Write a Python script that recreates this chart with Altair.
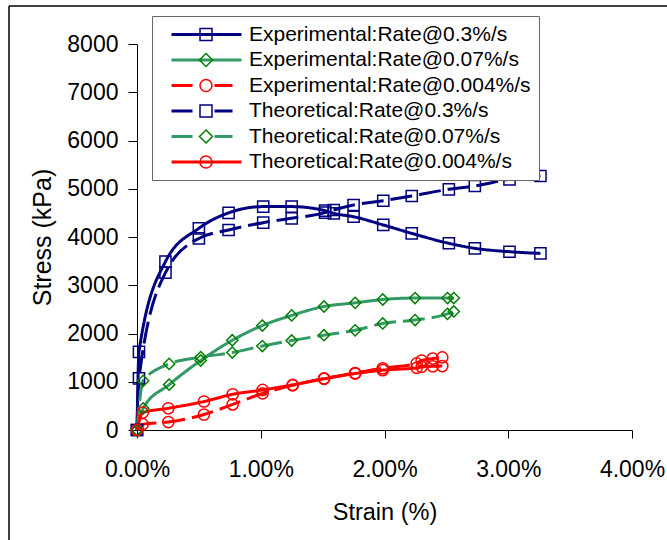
import altair as alt
import pandas as pd

FONT = "Liberation Sans"

# ---------------- data (strain in %, stress in kPa) ----------------
series_names = [
    "Experimental:Rate@0.3%/s",
    "Experimental:Rate@0.07%/s",
    "Experimental:Rate@0.004%/s",
    "Theoretical:Rate@0.3%/s",
    "Theoretical:Rate@0.07%/s",
    "Theoretical:Rate@0.004%/s",
]

strain_03 = [0, 0.016, 0.23, 0.50, 0.74, 1.02, 1.25, 1.52, 1.59, 1.75, 1.99, 2.22, 2.52, 2.73, 3.01, 3.26]
exp_03 = [0, 1620, 3490, 4180, 4500, 4630, 4630, 4545, 4490, 4420, 4250, 4075, 3870, 3765, 3695, 3660]
theo_03 = [0, 1070, 3260, 3970, 4145, 4297, 4387, 4505, 4560, 4663, 4752, 4850, 4988, 5057, 5196, 5264]

strain_007 = [0, 0.05, 0.26, 0.515, 0.77, 1.013, 1.25, 1.511, 1.763, 1.986, 2.247, 2.509, 2.56]
exp_007 = [0, 450, 940, 1440, 1860, 2165, 2375, 2560, 2635, 2705, 2735, 2735, 2735]
theo_007 = [0, 1020, 1370, 1510, 1605, 1740, 1855, 1965, 2066, 2208, 2279, 2407, 2457]

strain_0004 = [0, 0.046, 0.253, 0.541, 0.773, 1.015, 1.258, 1.512, 1.763, 1.986, 2.26, 2.30, 2.39, 2.467]
exp_0004 = [0, 120, 165, 320, 530, 760, 925, 1070, 1180, 1280, 1380, 1440, 1480, 1505]
theo_0004 = [0, 360, 450, 590, 740, 830, 935, 1060, 1170, 1240, 1290, 1310, 1320, 1325]

x_ticks = [0, 1, 2, 3, 4]
y_ticks = [0, 1000, 2000, 3000, 4000, 5000, 6000, 7000, 8000]

# ---------------- styles ----------------
line_colors = ["#000080", "#339966", "#FF0000", "#000080", "#339966", "#FF0000"]
marker_colors = ["#000080", "#008000", "#FF0000", "#000080", "#008000", "#FF0000"]
marker_shapes = ["square", "diamond", "circle", "square", "diamond", "circle"]
dash_styles = [[1, 0], [1, 0], [22, 7], [22, 7], [22, 7], [1, 0]]

# legend symbols (line sample + marker), in legend symbol units (1 unit = 5 px)
LINE_SOLID = "M0.2,0H14.2"
LINE_DASHED = "M0.2,0H4.4M8.8,0H12.4"
SQ = "M5.9,-1.2H8.3V1.2H5.9Z"
DI = "M7.1,-1.3L8.4,0L7.1,1.3L5.8,0Z"
CI = "M8.3,0A1.2,1.2,0,1,1,5.9,0A1.2,1.2,0,1,1,8.3,0Z"
legend_line_paths = [LINE_SOLID, LINE_SOLID, LINE_DASHED, LINE_DASHED, LINE_DASHED, LINE_SOLID]
legend_marker_paths = [SQ, DI, CI, SQ, DI, CI]

# ---------------- table ----------------
rows = []
for name, xs, ys in [
    (series_names[0], strain_03, exp_03),
    (series_names[1], strain_007, exp_007),
    (series_names[2], strain_0004, exp_0004),
    (series_names[3], strain_03, theo_03),
    (series_names[4], strain_007, theo_007),
    (series_names[5], strain_0004, theo_0004),
]:
    for xv, yv in zip(xs, ys):
        rows.append({"series": name, "strain": xv, "stress": yv})
df = pd.DataFrame(rows)

x_enc = alt.X(
    "strain:Q",
    scale=alt.Scale(domain=[0, 4], nice=False),
    axis=alt.Axis(
        title="Strain (%)",
        values=x_ticks,
        labelExpr="format(datum.value, '.2f') + '%'",
        labelFlush=False,
        grid=False,
        tickSize=8,
        labelPadding=20,
        labelFontSize=23,
        titleFontSize=23.5,
        titleX=247.5,
        titleY=89,
        titleBaseline="alphabetic",
    ),
)
y_enc = alt.Y(
    "stress:Q",
    scale=alt.Scale(domain=[0, 8000], nice=False),
    axis=alt.Axis(
        title="Stress (kPa)",
        values=y_ticks,
        format="d",
        grid=False,
        tickSize=9,
        labelPadding=10,
        labelFontSize=23,
        titleFontSize=25,
        titleX=-87,
        titleY=193,
        titleAngle=-90,
        titleBaseline="alphabetic",
    ),
)

dom = series_names

lines = alt.Chart(df).mark_line(strokeWidth=3, interpolate="monotone").encode(
    x=x_enc,
    y=y_enc,
    color=alt.Color("series:N", scale=alt.Scale(domain=dom, range=line_colors), legend=None),
    strokeDash=alt.StrokeDash("series:N", scale=alt.Scale(domain=dom, range=dash_styles), legend=None),
)

points = alt.Chart(df).mark_point(filled=False, strokeWidth=1.5, size=125, opacity=1).encode(
    x="strain:Q",
    y="stress:Q",
    color=alt.Color("series:N", scale=alt.Scale(domain=dom, range=marker_colors), legend=None),
    shape=alt.Shape("series:N", scale=alt.Scale(domain=dom, range=marker_shapes), legend=None),
)

common_legend = dict(
    orient="none",
    legendX=15,
    legendY=-28,
    title=None,
    symbolSize=100,
    symbolOpacity=1,
    labelFont=FONT,
    labelFontSize=21,
    labelColor="black",
    labelLimit=600,
    labelOffset=68,
    padding=8,
    rowPadding=3.5,
    direction="vertical",
)
legA = alt.Legend(symbolStrokeWidth=3, strokeColor="#666666", fillColor="white", **common_legend)
legB = alt.Legend(symbolStrokeWidth=1.5, labelOpacity=0, **common_legend)

legend_lines = alt.Chart(df).mark_point(filled=False, opacity=0).encode(
    x="strain:Q",
    y="stress:Q",
    color=alt.Color("series:N", scale=alt.Scale(domain=dom, range=line_colors), legend=legA),
    shape=alt.Shape("series:N", scale=alt.Scale(domain=dom, range=legend_line_paths), legend=legA),
)
legend_markers = alt.Chart(df).mark_point(filled=False, opacity=0).encode(
    x="strain:Q",
    y="stress:Q",
    color=alt.Color("series:N", scale=alt.Scale(domain=dom, range=marker_colors), legend=legB),
    shape=alt.Shape("series:N", scale=alt.Scale(domain=dom, range=legend_marker_paths), legend=legB),
)

frame_df = pd.DataFrame({"a": [0]})
frame_left = alt.Chart(frame_df).mark_rule(color="black", strokeWidth=1.5).encode(
    x=alt.value(-128), y=alt.value(-38), y2=alt.value(500)
)
frame_top = alt.Chart(frame_df).mark_rule(color="black", strokeWidth=1.5).encode(
    x=alt.value(-128), x2=alt.value(531), y=alt.value(-38)
)

chart = (
    alt.layer(frame_left, frame_top, lines, points, legend_lines, legend_markers)
    .resolve_scale(color="independent", shape="independent", strokeDash="independent")
    .properties(
        width=495,
        height=386,
        padding={"left": 137, "top": 44, "right": 35, "bottom": 110},
        autosize=alt.AutoSizeParams(type="none"),
        background="white",
    )
    .configure_view(stroke=None)
    .configure_axis(
        domainColor="black",
        tickColor="black",
        labelColor="black",
        titleColor="black",
        labelFont=FONT,
        titleFont=FONT,
        titleFontWeight="normal",
        domainWidth=1,
        tickWidth=1,
    )
)

chart.save("out.html", embed_options={"renderer": "svg", "actions": False})
